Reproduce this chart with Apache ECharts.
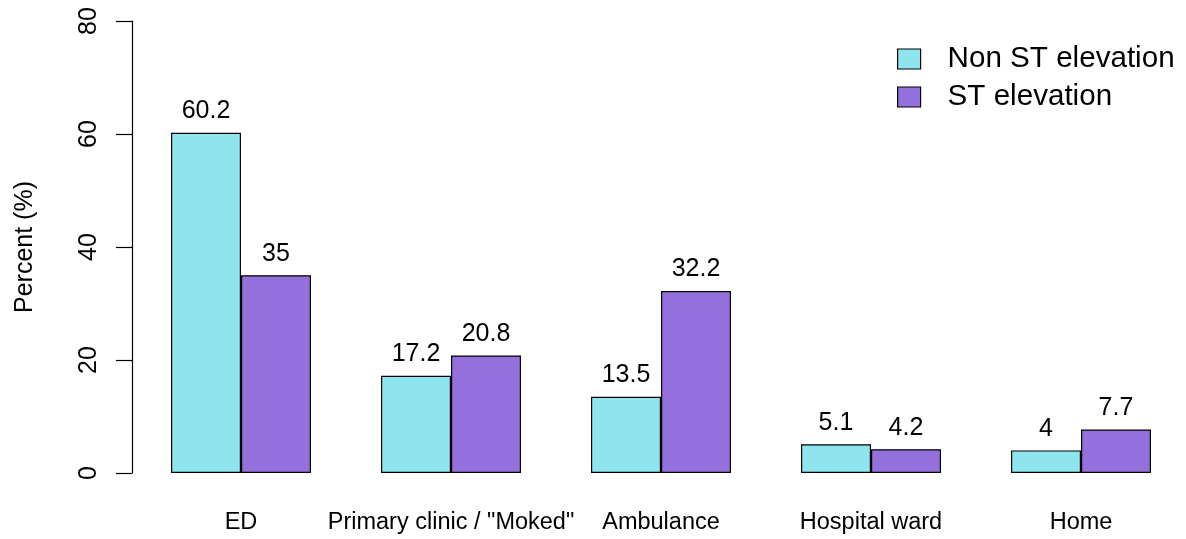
<!DOCTYPE html>
<html>
<head>
<meta charset="utf-8">
<script src="https://cdn.jsdelivr.net/npm/echarts@6/dist/echarts.min.js"></script>
<style>html,body{margin:0;padding:0;background:#fff}#c{width:1186px;height:539px}</style>
</head>
<body>
<div id="c"></div>
<script>
const categories = ['ED', 'Primary clinic / "Moked"', 'Ambulance', 'Hospital ward', 'Home'];
const nonSTValues = [60.2, 17.2, 13.5, 5.1, 4];
const stValues = [35, 20.8, 32.2, 4.2, 7.7];
const seriesNames = ['Non ST elevation', 'ST elevation'];
const yTicks = [0, 20, 40, 60, 80];

const FONT = 'Liberation Sans, Arial, Helvetica, sans-serif';
const chart = echarts.init(document.getElementById('c'), null, {renderer: 'canvas'});

function barSeries(name, data, color) {
  return {
    name: name,
    type: 'bar',
    data: data,
    barGap: '0%',
    barCategoryGap: '33.333%',
    itemStyle: {color: color, borderColor: '#000', borderWidth: 1.2},
    label: {
      show: true, position: 'top', distance: 9,
      color: '#000', fontFamily: FONT, fontSize: 25,
      formatter: p => String(p.value)
    },
    emphasis: {disabled: true},
    animation: false
  };
}

chart.setOption({
  animation: false,
  backgroundColor: '#fff',
  textStyle: {fontFamily: FONT},
  grid: {left: 136, right: -2, top: 21, bottom: 66, containLabel: false},
  legend: {
    orient: 'vertical',
    left: 897, top: 44,
    padding: 0,
    itemWidth: 23, itemHeight: 20, itemGap: 8,
    icon: 'rect',
    itemStyle: {borderColor: '#000', borderWidth: 1.2},
    textStyle: {fontFamily: FONT, fontSize: 29.6, color: '#000', lineHeight: 30, padding: [0, 0, 0, 22]},
    data: seriesNames
  },
  xAxis: {
    type: 'category',
    data: categories,
    axisLine: {show: false},
    axisTick: {show: false},
    axisLabel: {color: '#000', fontFamily: FONT, fontSize: 23.5, margin: 38, interval: 0}
  },
  yAxis: {
    type: 'value',
    min: yTicks[0], max: yTicks[yTicks.length - 1], interval: 20,
    offset: 4,
    name: 'Percent (%)',
    nameLocation: 'middle',
    nameRotate: 90,
    nameGap: 94,
    nameTextStyle: {color: '#000', fontFamily: FONT, fontSize: 25},
    splitLine: {show: false},
    axisLine: {show: true, lineStyle: {color: '#000', width: 1.2}},
    axisTick: {show: true, length: 16, lineStyle: {color: '#000', width: 1.2}},
    axisLabel: {color: '#000', fontFamily: FONT, fontSize: 25, rotate: 90, margin: 30}
  },
  series: [
    barSeries(seriesNames[0], nonSTValues, '#8EE5EE'),
    barSeries(seriesNames[1], stValues, '#9370DB')
  ]
});
</script>
</body>
</html>
